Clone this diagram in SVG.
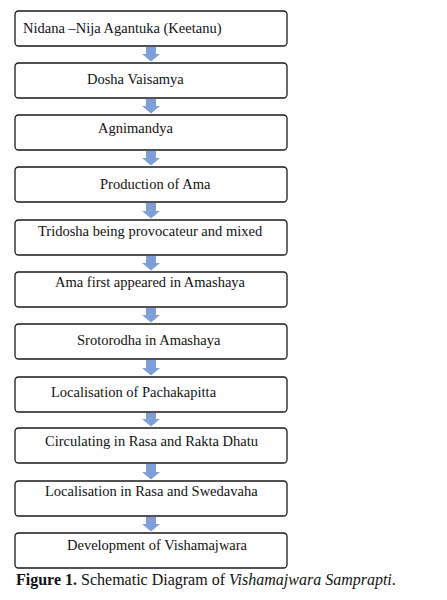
<svg xmlns="http://www.w3.org/2000/svg" width="447" height="600" viewBox="0 0 447 600">
<style>
.box{fill:#fff;stroke:#1a1a1a;stroke-width:1.3}
.t{font-family:"Liberation Serif","Times New Roman",serif;font-size:14.5px;fill:#111}
.arr{fill:#7f9fd8}
.cap{font-family:"Liberation Serif","Times New Roman",serif;font-size:16px;fill:#111}
</style>
<rect width="447" height="600" fill="#fff"/>
<g id="connectors">
<path class="arr" d="M146,47 H156 V54 H160 L151,61.5 L142,54 H146 Z"/>
<path class="arr" d="M146,99 H156 V106 H160 L151,113.5 L142,106 H146 Z"/>
<path class="arr" d="M146,151 H156 V158 H160 L151,165.5 L142,158 H146 Z"/>
<path class="arr" d="M146,203 H156 V211 H160 L151,218.5 L142,211 H146 Z"/>
<path class="arr" d="M146,256 H156 V263 H160 L151,270.5 L142,263 H146 Z"/>
<path class="arr" d="M146,308 H156 V315 H160 L151,322.5 L142,315 H146 Z"/>
<path class="arr" d="M146,360 H156 V368 H160 L151,375.5 L142,368 H146 Z"/>
<path class="arr" d="M146,413 H156 V419 H160 L151,426.5 L142,419 H146 Z"/>
<path class="arr" d="M146,464 H156 V472 H160 L151,479.5 L142,472 H146 Z"/>
<path class="arr" d="M146,517 H156 V524 H160 L151,531.5 L142,524 H146 Z"/>
</g>
<g id="n1"><rect class="box" x="15" y="11" width="272" height="35" rx="3.5"/><text class="t" x="23" y="33">Nidana –Nija Agantuka (Keetanu)</text></g>
<g id="n2"><rect class="box" x="15" y="63" width="272" height="35" rx="3.5"/><text class="t" x="87" y="84">Dosha Vaisamya</text></g>
<g id="n3"><rect class="box" x="15" y="115" width="272" height="35" rx="3.5"/><text class="t" x="98" y="133">Agnimandya</text></g>
<g id="n4"><rect class="box" x="15" y="167" width="272" height="35" rx="3.5"/><text class="t" x="100" y="189">Production of Ama</text></g>
<g id="n5"><rect class="box" x="15" y="220" width="272" height="35" rx="3.5"/><text class="t" x="38" y="236">Tridosha being provocateur and mixed</text></g>
<g id="n6"><rect class="box" x="15" y="272" width="272" height="35" rx="3.5"/><text class="t" x="55" y="287">Ama first appeared in Amashaya</text></g>
<g id="n7"><rect class="box" x="15" y="324" width="272" height="35" rx="3.5"/><text class="t" x="77" y="345">Srotorodha in Amashaya</text></g>
<g id="n8"><rect class="box" x="15" y="377" width="272" height="35" rx="3.5"/><text class="t" x="51" y="397">Localisation of Pachakapitta</text></g>
<g id="n9"><rect class="box" x="15" y="428" width="272" height="35" rx="3.5"/><text class="t" x="45" y="446">Circulating in Rasa and Rakta Dhatu</text></g>
<g id="n10"><rect class="box" x="15" y="481" width="272" height="35" rx="3.5"/><text class="t" x="45" y="496">Localisation in Rasa and Swedavaha</text></g>
<g id="n11"><rect class="box" x="15" y="533" width="272" height="35" rx="3.5"/><text class="t" x="67" y="550">Development of Vishamajwara</text></g>
<text class="cap" x="16" y="585"><tspan font-weight="bold">Figure 1.</tspan> Schematic Diagram of <tspan font-style="italic">Vishamajwara Samprapti</tspan>.</text>
</svg>
